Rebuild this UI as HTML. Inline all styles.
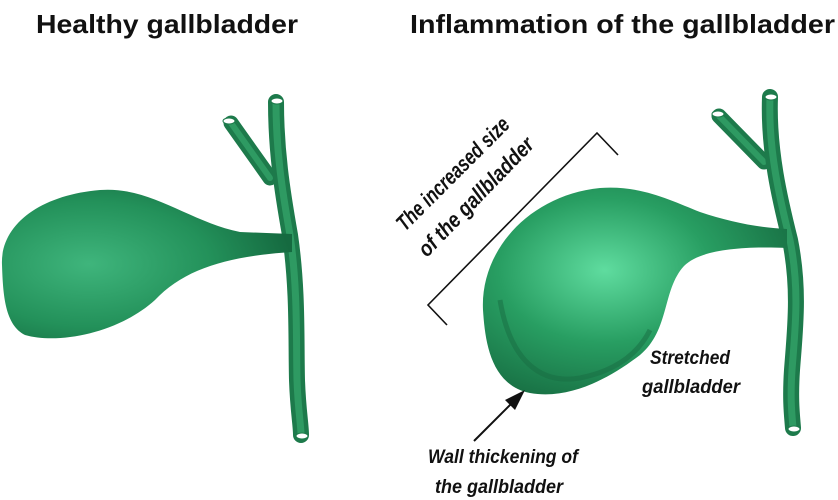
<!DOCTYPE html>
<html><head><meta charset="utf-8"><style>
html,body{margin:0;padding:0;background:#fff;width:838px;height:500px;overflow:hidden}
text{font-family:"Liberation Sans",sans-serif;font-weight:bold;fill:#111}
</style></head><body>
<svg width="838" height="500" viewBox="0 0 838 500" xmlns="http://www.w3.org/2000/svg">
<defs>
<radialGradient id="g1" cx="0.3" cy="0.5" r="0.7">
<stop offset="0" stop-color="#3fb57c"/><stop offset="0.6" stop-color="#23915a"/><stop offset="1" stop-color="#156a40"/>
</radialGradient>
<radialGradient id="g2" cx="0.4" cy="0.4" r="0.7">
<stop offset="0" stop-color="#5fdc9f"/><stop offset="0.5" stop-color="#289e62"/><stop offset="1" stop-color="#166a40"/>
</radialGradient>
</defs>
<text x="36" y="33" font-size="26" textLength="262" lengthAdjust="spacingAndGlyphs">Healthy gallbladder</text>
<text x="410" y="33" font-size="26" textLength="425" lengthAdjust="spacingAndGlyphs">Inflammation of the gallbladder</text>

<!-- left ducts -->
<g fill="none" stroke-linecap="round">
<path d="M231,123 L270,178" stroke="#1d7a4b" stroke-width="15"/>
<path d="M231,123 L270,178" stroke="#2e9a62" stroke-width="6"/>
<path d="M276,102 C276,150 282,190 290,235 C298,290 296,340 297,380 C298,410 301,425 301,435" stroke="#1d7a4b" stroke-width="16"/>
<path d="M276,102 C276,150 282,190 290,235 C298,290 296,340 297,380 C298,410 301,425 301,435" stroke="#2e9a62" stroke-width="7"/>
</g>
<path d="M2,265 C0,225 40,195 100,190 C150,186 190,222 240,232 L292,234 L292,252 C230,256 185,268 155,300 C120,332 60,345 25,335 C5,325 3,295 2,265 Z" fill="url(#g1)"/>
<ellipse cx="277" cy="101" rx="6" ry="3" fill="#fff" stroke="#1d7a4b"/>
<ellipse cx="229" cy="121" rx="6" ry="3" fill="#fff" stroke="#1d7a4b"/>
<ellipse cx="302" cy="436" rx="6" ry="3" fill="#fff" stroke="#1d7a4b"/>

<!-- right ducts -->
<g fill="none" stroke-linecap="round">
<path d="M719,116 L764,162" stroke="#1d7a4b" stroke-width="15"/>
<path d="M719,116 L764,162" stroke="#2e9a62" stroke-width="6"/>
<path d="M770,97 C768,150 780,200 790,240 C800,290 795,330 792,370 C790,400 792,415 793,428" stroke="#1d7a4b" stroke-width="16"/>
<path d="M770,97 C768,150 780,200 790,240 C800,290 795,330 792,370 C790,400 792,415 793,428" stroke="#2e9a62" stroke-width="7"/>
</g>
<path d="M483,310 C480,250 530,195 600,188 C640,185 670,200 700,212 C730,222 760,228 787,229 L787,248 C740,246 700,250 684,266 C662,290 670,330 640,355 C610,378 570,400 530,393 C490,385 485,340 483,310 Z" fill="url(#g2)"/>
<path d="M500,300 C510,360 540,385 580,378 C620,370 640,350 650,330" fill="none" stroke="#176b42" stroke-width="5" opacity="0.5"/>
<ellipse cx="771" cy="97" rx="6" ry="3" fill="#fff" stroke="#1d7a4b"/>
<ellipse cx="718" cy="114" rx="6" ry="3" fill="#fff" stroke="#1d7a4b"/>
<ellipse cx="794" cy="429" rx="6" ry="3" fill="#fff" stroke="#1d7a4b"/>

<!-- bracket -->
<polyline points="618,155 597,133 428,305 447,325" fill="none" stroke="#111" stroke-width="1.6"/>
<g transform="translate(405,232) rotate(-45)"><text x="0" y="0" font-size="22" font-style="italic" textLength="150" lengthAdjust="spacingAndGlyphs">The increased size</text></g>
<g transform="translate(427,258) rotate(-46)"><text x="0" y="0" font-size="22" font-style="italic" textLength="156" lengthAdjust="spacingAndGlyphs">of the gallbladder</text></g>

<!-- arrow -->
<line x1="474" y1="441" x2="512" y2="403" stroke="#111" stroke-width="2"/>
<polygon points="525,390 505,400 515,410" fill="#111"/>

<text x="650" y="364" font-size="19" font-style="italic" textLength="80" lengthAdjust="spacingAndGlyphs">Stretched</text>
<text x="642" y="393" font-size="19" font-style="italic" textLength="98" lengthAdjust="spacingAndGlyphs">gallbladder</text>
<text x="428" y="463" font-size="19" font-style="italic" textLength="150" lengthAdjust="spacingAndGlyphs">Wall thickening of</text>
<text x="435" y="493" font-size="19" font-style="italic" textLength="128" lengthAdjust="spacingAndGlyphs">the gallbladder</text>
</svg>
</body></html>
